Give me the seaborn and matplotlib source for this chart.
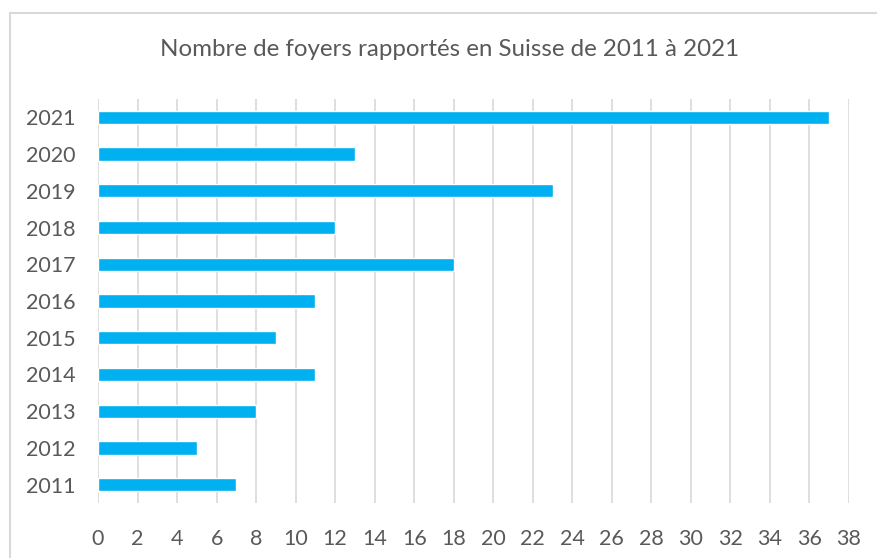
import matplotlib
matplotlib.use("Agg")
import matplotlib.pyplot as plt
import seaborn as sns
import pandas as pd
from matplotlib.patches import Rectangle

years = ["2021", "2020", "2019", "2018", "2017", "2016", "2015", "2014", "2013", "2012", "2011"]
values = [37, 13, 23, 12, 18, 11, 9, 11, 8, 5, 7]
title = "Nombre de foyers rapportés en Suisse de 2011 à 2021"
xticks = list(range(0, 39, 2))

sns.set_theme(style="white")
plt.rcParams['font.family'] = ['Lato', 'DejaVu Sans']

df = pd.DataFrame({"year": years, "value": values})

fig = plt.figure(figsize=(8.78, 5.58), dpi=100)
ax = fig.add_axes([98/878, 1-503/558, (849-98)/878, (503-99)/558])

sns.barplot(data=df, x="value", y="year", order=years, color="#00B0F0",
            saturation=1, width=0.36, ax=ax, zorder=3)

ax.set_xlim(0, 38)
ax.set_ylim(10.5, -0.5)
ax.set_xticks(xticks)
ax.set_xticklabels([str(t) for t in xticks])
ax.grid(axis="x", color="#D9D9D9", linewidth=1.2, zorder=0)
ax.grid(axis="y", visible=False)
for s in ax.spines.values():
    s.set_visible(False)
ax.tick_params(axis="both", length=0, labelsize=15.5, colors="#595959")
ax.tick_params(axis="x", pad=19)
ax.tick_params(axis="y", pad=16)
ax.set_xlabel("")
ax.set_ylabel("")

fig.text(450/878, 1-50/558, title, ha="center", va="center", fontsize=17.4, color="#595959")

fig.patches.append(Rectangle((10/878, -0.1), 1.2, 1-13/558+0.1, transform=fig.transFigure,
                             fill=False, edgecolor="#D9D9D9", linewidth=1.5))

fig.savefig("out.png", dpi=100)
